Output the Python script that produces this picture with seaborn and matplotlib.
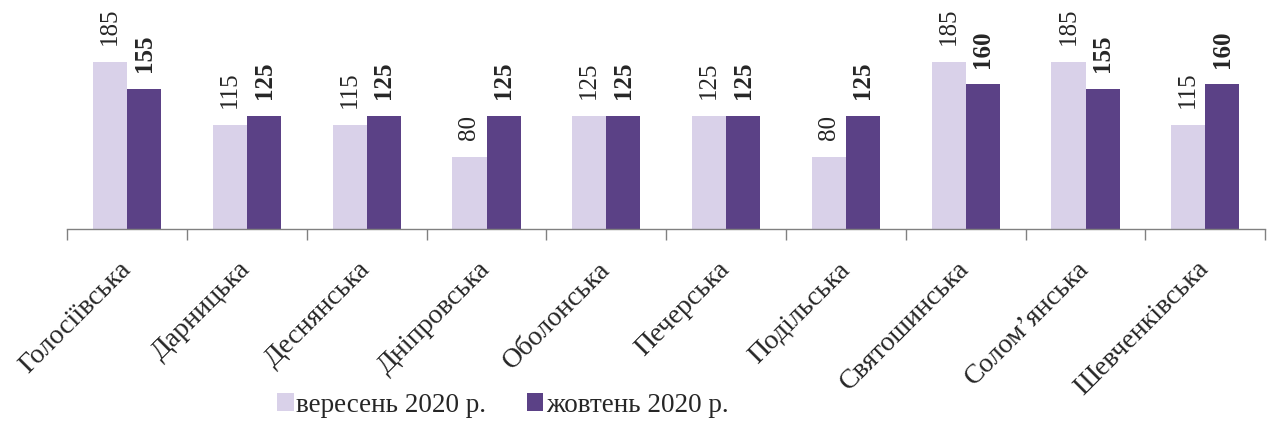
import matplotlib
matplotlib.use("Agg")
import matplotlib.pyplot as plt
import matplotlib.transforms as mtransforms
import seaborn as sns
import pandas as pd
import numpy as np

categories = ["Голосіївська", "Дарницька", "Деснянська", "Дніпровська", "Оболонська",
              "Печерська", "Подільська", "Святошинська", "Солом’янська", "Шевченківська"]
series_names = ["вересень 2020 р.", "жовтень 2020 р."]
sep_values = [185, 115, 115, 80, 125, 125, 80, 185, 185, 115]
oct_values = [155, 125, 125, 125, 125, 125, 125, 160, 155, 160]
colors = ["#D9D1E9", "#5B4186"]

df = pd.DataFrame({
    "district": categories * 2,
    "series": [series_names[0]] * len(categories) + [series_names[1]] * len(categories),
    "value": sep_values + oct_values,
})

sns.set_theme(style="white")
plt.rcParams["font.family"] = ["Liberation Serif", "DejaVu Serif"]

fig = plt.figure(figsize=(12.69, 4.28), dpi=100)
ax = fig.add_axes([0.053, 0.465, 0.944, 0.535])

sns.barplot(data=df, x="district", y="value", hue="series", order=categories,
            hue_order=series_names, palette=colors, width=0.57, ax=ax,
            edgecolor="none", saturation=1, legend=True)

ax.set_ylim(0, 253)
ax.set_xlim(-0.5, len(categories) - 0.5)
ax.set_xlabel("")
ax.set_ylabel("")
ax.set_yticks([])
for s in ["top", "right", "left"]:
    ax.spines[s].set_visible(False)
ax.spines["bottom"].set_color("#808080")
ax.spines["bottom"].set_linewidth(1)

ax.set_xticks(range(len(categories)))
ax.set_xticklabels(categories, rotation=45, ha="right", rotation_mode="anchor", fontsize=20)
ax.tick_params(axis="x", which="major", length=0, pad=20)
shift = mtransforms.ScaledTranslation(-9 / 100, 0, fig.dpi_scale_trans)
for lbl in ax.get_xticklabels():
    lbl.set_transform(lbl.get_transform() + shift)
ax.set_xticks(np.arange(-0.5, len(categories) + 0.5, 1), minor=True)
ax.tick_params(axis="x", which="minor", length=8, color="#808080", width=1, bottom=True)

for i, cont in enumerate(ax.containers):
    for bar in cont:
        h = bar.get_height()
        ax.annotate(f"{int(round(h))}", (bar.get_x() + bar.get_width() / 2, h),
                    xytext=(0, 12), textcoords="offset points",
                    rotation=90, ha="center", va="bottom", fontsize=18,
                    fontweight="bold" if i == 1 else "normal")

leg = ax.legend(loc="center", ncol=2, frameon=False, fontsize=19.5, handlelength=0.6,
                handleheight=0.6, handletextpad=0.1, columnspacing=1.5)
leg.set_bbox_to_anchor((503 / 1269, (428 - 405) / 428), transform=fig.transFigure)

fig.savefig("out.png", dpi=100)
